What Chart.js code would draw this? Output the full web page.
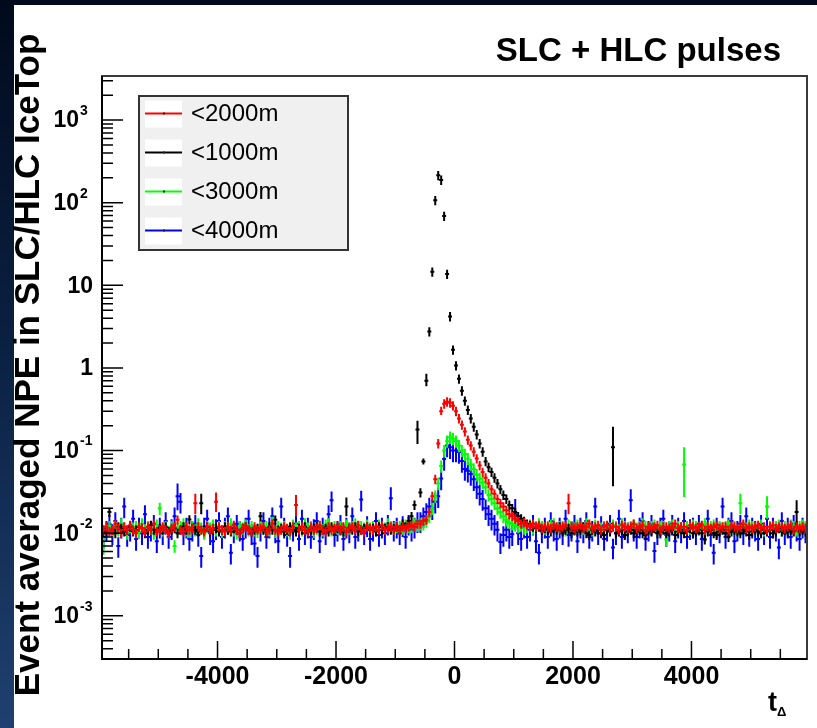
<!DOCTYPE html>
<html><head><meta charset="utf-8">
<script src="https://cdn.jsdelivr.net/npm/chart.js@4/dist/chart.umd.min.js"></script>
<style>html,body{margin:0;padding:0;background:#fff;overflow:hidden}canvas{display:block}</style>
</head><body>
<canvas id="c" width="817" height="728"></canvas>
<script>
// ---- histogram binning (t_Delta) ----
const binLow = -5950, binWidth = 50, nBins = 238;
const binCenters = Array.from({length: nBins}, (_, i) => binLow + binWidth * (i + 0.5));

// ---- series labels / colours ----
const seriesLabels = ['<2000m', '<1000m', '<3000m', '<4000m'];
const seriesColors = ['#ff0000', '#000000', '#00ff00', '#0000ff'];

// ---- series values (event averaged NPE per bin) ----
const npe2000 = [
0.011,0.012,0.0105,0.011,0.013,0.0115,0.010,0.012,0.011,0.0125,
0.011,0.010,0.012,0.0115,0.0105,0.012,0.011,0.013,0.0105,0.011,
0.012,0.011,0.010,0.0115,0.012,0.0145,0.011,0.0105,0.012,0.011,
0.0115,0.023,0.012,0.011,0.0105,0.012,0.011,0.0115,0.024,0.012,
0.011,0.0105,0.012,0.011,0.0125,0.011,0.010,0.0115,0.012,0.011,
0.0105,0.012,0.011,0.0115,0.012,0.0105,0.011,0.013,0.011,0.0105,
0.011,0.012,0.0115,0.0105,0.012,0.022,0.011,0.012,0.011,0.0105,
0.012,0.011,0.0115,0.0125,0.011,0.0105,0.012,0.011,0.0115,0.012,
0.011,0.012,0.0105,0.0115,0.012,0.011,0.0125,0.011,0.0105,0.012,
0.0115,0.011,0.012,0.011,0.0125,0.011,0.0115,0.012,0.011,0.012,
0.011,0.012,0.0115,0.012,0.0125,0.012,0.013,0.013,0.014,0.0145,
0.018,0.028,0.045,0.122,0.30,0.37,0.39,0.38,0.35,0.30,
0.245,0.205,0.17,0.135,0.115,0.097,0.080,0.066,0.055,0.047,
0.040,0.034,0.030,0.026,0.023,0.021,0.019,0.017,0.016,0.015,
0.014,0.013,0.0135,0.0125,0.012,0.013,0.012,0.0125,0.0115,0.012,
0.012,0.0115,0.0125,0.012,0.0115,0.012,0.0125,0.023,0.012,0.0115,
0.012,0.0125,0.0115,0.012,0.013,0.0115,0.012,0.0125,0.011,0.012,
0.0125,0.0115,0.012,0.012,0.011,0.0125,0.012,0.0115,0.012,0.013,
0.0115,0.012,0.0125,0.011,0.012,0.0115,0.012,0.0125,0.011,0.012,
0.012,0.0115,0.012,0.013,0.0115,0.012,0.012,0.011,0.0125,0.012,
0.0115,0.012,0.0125,0.011,0.012,0.0115,0.012,0.0125,0.0115,0.012,
0.012,0.011,0.0125,0.012,0.0115,0.012,0.013,0.0115,0.012,0.0115,
0.012,0.0125,0.0115,0.012,0.011,0.012,0.0125,0.0115,0.012,0.012,
0.0115,0.012,0.0125,0.011,0.012,0.0115,0.012,0.0115];

const npe1000 = [
0.011,0.0105,0.018,0.011,0.010,0.012,0.0115,0.0105,0.011,0.012,
0.0105,0.011,0.012,0.0115,0.010,0.011,0.0125,0.011,0.0105,0.0115,
0.011,0.012,0.0105,0.011,0.0115,0.010,0.011,0.012,0.011,0.0146,
0.0115,0.011,0.0105,0.023,0.011,0.012,0.0105,0.011,0.0115,0.0105,
0.011,0.012,0.011,0.0105,0.0115,0.011,0.010,0.0115,0.012,0.011,
0.0105,0.011,0.0115,0.016,0.011,0.0105,0.012,0.011,0.0145,0.011,
0.0115,0.0105,0.011,0.012,0.011,0.0105,0.0115,0.011,0.012,0.0105,
0.011,0.0115,0.012,0.0105,0.011,0.0115,0.0105,0.012,0.011,0.0115,
0.011,0.0105,0.021,0.0115,0.011,0.012,0.0105,0.011,0.0115,0.012,
0.011,0.0115,0.0105,0.012,0.011,0.0115,0.012,0.011,0.0115,0.012,
0.011,0.013,0.012,0.014,0.016,0.022,0.18,0.031,0.074,0.70,
2.76,14.6,107,215,189,69,13.7,4.2,1.66,1.07,
0.74,0.53,0.40,0.31,0.245,0.194,0.157,0.122,0.097,0.074,
0.063,0.055,0.047,0.040,0.034,0.029,0.026,0.022,0.020,0.018,
0.016,0.015,0.014,0.013,0.0125,0.012,0.0115,0.012,0.011,0.0115,
0.011,0.0105,0.0115,0.011,0.012,0.0105,0.011,0.0115,0.010,0.011,
0.0105,0.011,0.012,0.010,0.0095,0.011,0.0105,0.011,0.010,0.0095,
0.011,0.0105,0.11,0.010,0.0105,0.011,0.0095,0.0105,0.011,0.010,
0.0105,0.011,0.010,0.0095,0.011,0.0105,0.0115,0.010,0.0105,0.011,
0.010,0.0105,0.011,0.0095,0.0105,0.011,0.010,0.0105,0.0115,0.010,
0.0105,0.011,0.010,0.0084,0.0105,0.011,0.010,0.0095,0.0105,0.011,
0.010,0.009,0.0105,0.011,0.0105,0.010,0.011,0.0105,0.0095,0.0105,
0.011,0.0105,0.010,0.011,0.0105,0.011,0.010,0.0105,0.0115,0.0105,
0.011,0.0105,0.011,0.0105,0.018,0.0105,0.011,0.0105];

const npe3000 = [
0.007,0.011,0.012,0.0105,0.012,0.011,0.013,0.0115,0.010,0.012,
0.0115,0.012,0.0105,0.013,0.011,0.012,0.0115,0.010,0.0125,0.020,
0.011,0.012,0.0105,0.012,0.007,0.0115,0.012,0.013,0.011,0.0105,
0.012,0.011,0.013,0.0115,0.010,0.012,0.0115,0.0125,0.011,0.012,
0.0105,0.012,0.0115,0.013,0.011,0.010,0.012,0.0115,0.0125,0.011,
0.012,0.011,0.0105,0.0125,0.0115,0.012,0.011,0.0135,0.0105,0.012,
0.0115,0.012,0.011,0.010,0.0125,0.0115,0.012,0.011,0.013,0.0115,
0.012,0.0105,0.0115,0.012,0.011,0.0125,0.013,0.011,0.012,0.0115,
0.012,0.011,0.0125,0.0115,0.012,0.013,0.011,0.012,0.0115,0.0125,
0.0115,0.012,0.011,0.0125,0.012,0.0115,0.013,0.012,0.0115,0.012,
0.012,0.0115,0.0125,0.012,0.012,0.013,0.0125,0.013,0.013,0.014,
0.016,0.020,0.028,0.040,0.065,0.10,0.13,0.145,0.14,0.13,
0.115,0.10,0.09,0.08,0.068,0.06,0.051,0.046,0.041,0.036,
0.029,0.026,0.023,0.020,0.018,0.016,0.0145,0.0135,0.013,0.0125,
0.012,0.0125,0.0115,0.012,0.0125,0.0115,0.012,0.013,0.012,0.0115,
0.012,0.0125,0.013,0.0115,0.012,0.012,0.011,0.0125,0.012,0.0115,
0.0125,0.012,0.0115,0.013,0.012,0.011,0.0125,0.012,0.0115,0.012,
0.012,0.0115,0.0125,0.012,0.011,0.013,0.012,0.0115,0.012,0.0125,
0.0115,0.012,0.013,0.012,0.0115,0.012,0.0125,0.011,0.012,0.012,
0.0084,0.012,0.0125,0.0115,0.012,0.0115,0.068,0.012,0.0115,0.0125,
0.012,0.0115,0.012,0.013,0.0115,0.012,0.0125,0.011,0.012,0.0115,
0.012,0.0125,0.0115,0.012,0.011,0.023,0.012,0.0115,0.0125,0.012,
0.0115,0.012,0.0125,0.011,0.021,0.012,0.0115,0.012,0.0125,0.011,
0.012,0.0115,0.0125,0.012,0.011,0.012,0.0125,0.012];

const npe4000 = [
0.009,0.011,0.013,0.010,0.014,0.007,0.012,0.021,0.0095,0.011,
0.015,0.0085,0.012,0.010,0.017,0.009,0.011,0.013,0.008,0.012,
0.010,0.014,0.009,0.0115,0.016,0.028,0.024,0.010,0.012,0.0085,
0.011,0.013,0.0095,0.0053,0.012,0.015,0.010,0.008,0.0115,0.014,
0.009,0.012,0.016,0.0058,0.0105,0.013,0.011,0.0085,0.012,0.015,
0.010,0.0075,0.0053,0.011,0.014,0.009,0.012,0.016,0.0105,0.008,
0.021,0.012,0.0095,0.0053,0.011,0.013,0.0085,0.015,0.010,0.012,
0.009,0.0115,0.014,0.008,0.012,0.010,0.017,0.025,0.0095,0.011,
0.013,0.0085,0.012,0.0105,0.016,0.009,0.011,0.0255,0.010,0.0125,
0.0085,0.011,0.014,0.0095,0.012,0.010,0.013,0.0265,0.011,0.012,
0.010,0.0125,0.009,0.013,0.011,0.012,0.014,0.014,0.016,0.018,
0.021,0.020,0.024,0.028,0.046,0.079,0.115,0.11,0.10,0.10,
0.096,0.075,0.060,0.057,0.052,0.045,0.036,0.030,0.026,0.020,
0.017,0.015,0.013,0.011,0.0078,0.0095,0.011,0.009,0.0097,0.017,
0.010,0.0085,0.012,0.009,0.011,0.013,0.008,0.0058,0.0105,0.012,
0.009,0.014,0.011,0.0085,0.012,0.010,0.015,0.0095,0.011,0.013,
0.008,0.012,0.0105,0.014,0.009,0.011,0.021,0.010,0.0125,0.0085,
0.011,0.013,0.0067,0.010,0.015,0.009,0.012,0.0105,0.025,0.011,
0.009,0.012,0.014,0.0085,0.011,0.013,0.0061,0.010,0.012,0.015,
0.0095,0.011,0.013,0.008,0.012,0.0105,0.014,0.009,0.0115,0.012,
0.010,0.013,0.0085,0.011,0.015,0.0095,0.0058,0.012,0.0105,0.021,
0.009,0.012,0.014,0.008,0.011,0.013,0.010,0.016,0.0095,0.012,
0.011,0.0085,0.013,0.010,0.015,0.009,0.012,0.011,0.0067,0.014,
0.010,0.012,0.009,0.013,0.011,0.0085,0.012,0.0105];

// ---- uncertainties: typical relative error per series, and bars read individually ----
const relErr = [0.13, 0.13, 0.17, 0.28];
const errBars = [
  {31:[0.017,0.030], 38:[0.018,0.031], 65:[0.016,0.029], 157:[0.017,0.030], 114:[0.27,0.34]},
  {106:[0.12,0.23], 109:[0.60,0.85], 108:[0.068,0.080], 172:[0.037,0.194], 234:[0.012,0.025], 33:[0.017,0.030], 82:[0.016,0.027]},
  {196:[0.0275,0.11], 215:[0.017,0.030], 224:[0.015,0.028], 0:[0.0055,0.009]},
  {25:[0.019,0.040], 139:[0.011,0.026], 178:[0.018,0.034], 97:[0.019,0.036]}
];

// ---- axis ticks ----
const xTickValues = [-4000, -2000, 0, 2000, 4000];
const xTickLabels = ['-4000', '-2000', '0', '2000', '4000'];
const xMinorStep = 500;
const yTickValues = [1e-3, 1e-2, 1e-1, 1, 10, 1e2, 1e3];
const yTickBase = ['10', '10', '10', '1', '10', '10', '10'];
const yTickExp = ['-3', '-2', '-1', '', '', '2', '3'];
const xRange = [-5950, 5950];
const yRange = [3.24e-4, 3420];

const allSeries = [npe2000, npe1000, npe3000, npe4000];

const datasets = allSeries.map((vals, s) => ({
  label: seriesLabels[s],
  data: vals.map((v, i) => ({x: binCenters[i], y: v})),
  borderColor: seriesColors[s],
  backgroundColor: seriesColors[s],
  showLine: false,
  pointRadius: 1,
  pointBorderWidth: 0,
  pointHoverRadius: 0
}));

function errFor(s, i) {
  const o = errBars[s][i];
  if (o) return o;
  const v = allSeries[s][i];
  return [v * (1 - relErr[s]), v * (1 + relErr[s])];
}

const FONT = "'Liberation Sans', Arial, Helvetica, sans-serif";

const bgPlugin = {
  id: 'bg',
  beforeDraw(chart) {
    const ctx = chart.ctx, W = chart.width, H = chart.height;
    ctx.save();
    const g = ctx.createLinearGradient(0, 0, 0, H);
    g.addColorStop(0, '#010a1c');
    g.addColorStop(0.5, '#0b2244');
    g.addColorStop(1, '#1f4070');
    ctx.fillStyle = g;
    ctx.fillRect(0, 0, W, H);
    ctx.fillStyle = '#ffffff';
    ctx.fillRect(14, 5, W - 14, H - 5);
    ctx.restore();
  }
};

const errPlugin = {
  id: 'errbars',
  afterDatasetDraw(chart, args) {
    const s = args.index;
    const ctx = chart.ctx, xs = chart.scales.x, ys = chart.scales.y, a = chart.chartArea;
    ctx.save();
    ctx.beginPath();
    ctx.rect(a.left, a.top, a.right - a.left, a.bottom - a.top);
    ctx.clip();
    ctx.strokeStyle = seriesColors[s];
    ctx.lineWidth = 2;
    ctx.beginPath();
    allSeries[s].forEach((v, i) => {
      const c = binCenters[i];
      const px = xs.getPixelForValue(c), py = ys.getPixelForValue(v);
      const x0 = xs.getPixelForValue(c - binWidth / 2) - 0.5, x1 = xs.getPixelForValue(c + binWidth / 2) + 0.5;
      const [lo, hi] = errFor(s, i);
      ctx.moveTo(x0, py); ctx.lineTo(x1, py);
      ctx.moveTo(px, ys.getPixelForValue(lo)); ctx.lineTo(px, ys.getPixelForValue(hi));
    });
    ctx.stroke();
    ctx.restore();
  }
};

const axesPlugin = {
  id: 'rootaxes',
  afterDraw(chart) {
    const ctx = chart.ctx, xs = chart.scales.x, ys = chart.scales.y, a = chart.chartArea;
    ctx.save();
    // frame
    ctx.strokeStyle = '#3a3a3a';
    ctx.lineWidth = 2;
    ctx.strokeRect(a.left, a.top, a.right - a.left, a.bottom - a.top);
    ctx.strokeStyle = '#000';
    ctx.beginPath();
    ctx.moveTo(a.left, a.top); ctx.lineTo(a.left, a.bottom); ctx.lineTo(a.right, a.bottom);
    ctx.stroke();
    // x ticks (inward)
    ctx.lineWidth = 1.5;
    ctx.beginPath();
    for (let v = Math.ceil(xRange[0] / xMinorStep) * xMinorStep; v <= xRange[1]; v += xMinorStep) {
      const px = xs.getPixelForValue(v);
      const len = xTickValues.includes(v) ? 18 : 10;
      ctx.moveTo(px, a.bottom); ctx.lineTo(px, a.bottom - len);
    }
    // y ticks (inward, log)
    for (let e = -4; e <= 3; e++) {
      for (let k = 1; k <= 9; k++) {
        const v = k * Math.pow(10, e);
        if (v < yRange[0] || v > yRange[1]) continue;
        const py = ys.getPixelForValue(v);
        const len = k === 1 ? 21 : 11;
        ctx.moveTo(a.left, py); ctx.lineTo(a.left + len, py);
      }
    }
    ctx.stroke();
    // x labels
    ctx.fillStyle = '#000';
    ctx.font = 'bold 25px ' + FONT;
    ctx.textAlign = 'center';
    ctx.textBaseline = 'alphabetic';
    xTickValues.forEach((v, i) => {
      ctx.fillText(xTickLabels[i], xs.getPixelForValue(v), 684);
    });
    // y labels with exponents
    yTickValues.forEach((v, i) => {
      const py = ys.getPixelForValue(v);
      ctx.textBaseline = 'middle';
      if (yTickExp[i]) {
        ctx.font = 'bold 23px ' + FONT;
        ctx.textAlign = 'right';
        ctx.fillText(yTickBase[i], 79, py + 1);
        ctx.font = 'bold 14px ' + FONT;
        ctx.textAlign = 'left';
        ctx.fillText(yTickExp[i], 80, py - 9);
      } else {
        ctx.font = 'bold 23px ' + FONT;
        ctx.textAlign = 'right';
        ctx.fillText(yTickBase[i], 93, py + 1);
      }
    });
    // x title t_Delta
    ctx.textBaseline = 'alphabetic';
    ctx.textAlign = 'left';
    ctx.font = 'bold 27px ' + FONT;
    ctx.fillText('t', 768, 711);
    ctx.font = 'bold 13px ' + FONT;
    ctx.fillText('\u0394', 777, 716);
    // y title
    ctx.save();
    ctx.translate(39, 365);
    ctx.rotate(-Math.PI / 2);
    ctx.font = 'bold 35px ' + FONT;
    ctx.textAlign = 'center';
    ctx.textBaseline = 'alphabetic';
    ctx.fillText('Event averaged NPE in SLC/HLC IceTop', 0, 0);
    ctx.restore();
    // title
    ctx.font = 'bold 33px ' + FONT;
    ctx.textAlign = 'right';
    ctx.textBaseline = 'alphabetic';
    ctx.fillText('SLC + HLC pulses', 781, 61);
    // legend
    const lx = 139, ly = 96, lw = 209, lh = 154;
    ctx.fillStyle = '#f0f0f0';
    ctx.fillRect(lx, ly, lw, lh);
    ctx.strokeStyle = '#333';
    ctx.lineWidth = 2;
    ctx.strokeRect(lx, ly, lw, lh);
    chart.data.datasets.forEach((ds, i) => {
      const cy = 113.5 + i * 39;
      ctx.fillStyle = '#fff';
      ctx.fillRect(145, cy - 13, 37, 27);
      ctx.strokeStyle = ds.borderColor;
      ctx.lineWidth = 2;
      ctx.beginPath(); ctx.moveTo(145, cy); ctx.lineTo(182, cy); ctx.stroke();
      ctx.fillStyle = '#222';
      ctx.fillRect(163, cy - 1, 2, 2);
      ctx.fillStyle = '#000';
      ctx.font = '24px ' + FONT;
      ctx.textAlign = 'left';
      ctx.textBaseline = 'middle';
      ctx.fillText(ds.label, 191, cy + 1);
    });
    ctx.restore();
  }
};

new Chart(document.getElementById('c'), {
  type: 'scatter',
  data: { datasets },
  options: {
    responsive: false,
    animation: false,
    devicePixelRatio: 1,
    layout: { padding: { left: 102, right: 10, top: 76, bottom: 69 } },
    plugins: { legend: { display: false }, title: { display: false }, tooltip: { enabled: false } },
    scales: {
      x: { type: 'linear', min: xRange[0], max: xRange[1], display: false },
      y: { type: 'logarithmic', min: yRange[0], max: yRange[1], display: false }
    }
  },
  plugins: [bgPlugin, errPlugin, axesPlugin]
});
</script>
</body></html>
